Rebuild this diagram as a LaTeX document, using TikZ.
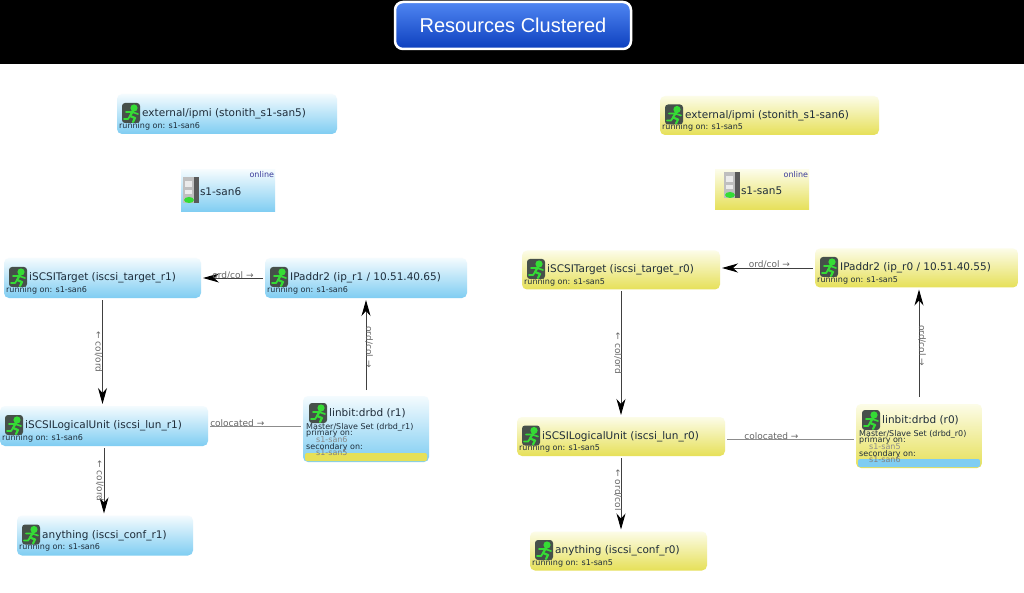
\documentclass[tikz,border=0pt]{standalone}
\usepackage{fontspec}
\setmainfont{DejaVu Sans}
\newfontfamily\bannerfont{Liberation Sans}
\usetikzlibrary{arrows.meta}
\usetikzlibrary{positioning}
\definecolor{bluetop}{HTML}{F4FBFE}
\definecolor{bluemid}{HTML}{C4E8F9}
\definecolor{bluebot}{HTML}{7FCDF2}
\definecolor{yellowtop}{HTML}{FCFCE8}
\definecolor{yellowmid}{HTML}{F4F2A6}
\definecolor{yellowbot}{HTML}{E6E058}
\definecolor{inktext}{HTML}{1F2D3A}
\definecolor{bannertop}{HTML}{4F86F2}
\definecolor{bannerbot}{HTML}{0D3FBE}
\definecolor{runnerbg}{HTML}{46504A}
\definecolor{runnergreen}{HTML}{35DC35}
\definecolor{onlineblue}{HTML}{3A3A9A}
\tikzset{
  bluebox/.style = {rectangle, rounded corners=5pt, top color=bluetop, middle color=bluemid, bottom color=bluebot, minimum height=40pt, outer sep=2pt},
  yellowbox/.style = {rectangle, rounded corners=5pt, top color=yellowtop, middle color=yellowmid, bottom color=yellowbot, minimum height=39pt, outer sep=2pt},
  restitle/.style = {inner sep=0pt, text=inktext, font=\fontsize{10.5}{11}\selectfont},
  resrun/.style = {inner sep=0pt, text=inktext, font=\fontsize{8}{9}\selectfont},
  edgelabel/.style = {inner sep=0pt, text=black!60, font=\fontsize{9}{10}\selectfont},
  flow/.style = {draw=black!75, line width=0.9pt, -{Stealth[length=16pt,width=9pt,inset=5pt,black]}},
  coloc/.style = {draw=black!45, line width=0.8pt},
  runner/.pic = {
    \fill[runnerbg, rounded corners=3pt] (-9,-10) rectangle (9,10);
    \fill[runnergreen] (3,-5) circle (3.6);
    \draw[runnergreen, line width=2.2pt, line cap=round, line join=round] (2,-2) -- (-1,3) -- (4,5) -- (2,9);
    \draw[runnergreen, line width=1.8pt, line cap=round, line join=round] (-1,3) -- (-3,6) -- (-7,6);
    \draw[runnergreen, line width=1.6pt, line cap=round, line join=round] (-5,-1) -- (1,-1) -- (7,1);
  },
  serverpic/.pic = {
    \fill[black!65] (-8,-13) rectangle (8,13);
    \fill[black!25] (-8,-13) rectangle (3,13);
    \fill[black!8] (-6,-9) rectangle (1,-3);
    \fill[black!8] (-6,0) rectangle (1,4);
    \fill[runnergreen] (-2,10) ellipse (5 and 3);
  },
}
% one resource: style, name, position, width, title, host
\newcommand{\resource}[6]{
  \node [#1, minimum width=#4] (#2) at (#3) {};
  \node [restitle, right=27pt of #2.west, yshift=0pt] (#2-title) {#5};
  \node [resrun, right=4pt of #2.west, yshift=-12pt] (#2-run) {running on: #6};
  \pic at ([xshift=16pt, yshift=1pt]#2.west) {runner};
}
% one master/slave set: style, height, name, position, title, set, primary, secondary, stripe colour
\newcommand{\drbdset}[9]{
  \node [#1, minimum width=126pt, minimum height=#2pt] (#3) at (#4) {};
  \fill [#9, rounded corners=2pt] ([shift={(4pt,3pt)}]#3.south west) rectangle ([shift={(-4pt,11pt)}]#3.south east);
  \pic at ([xshift=17pt, yshift=16pt]#3.west) {runner};
  \node [restitle, right=28pt of #3.west, yshift=16pt] (#3-title) {#5};
  \node [resrun, right=5pt of #3.west, yshift=2pt] (#3-set) {Master/Slave Set (#6)};
  \node [resrun, right=5pt of #3.west, yshift=-4pt] (#3-pri) {primary on:};
  \node [resrun, text=black!45, right=15pt of #3.west, yshift=-11pt] (#3-prihost) {#7};
  \node [resrun, right=5pt of #3.west, yshift=-18pt] (#3-sec) {secondary on:};
  \node [resrun, text=black!50, right=15pt of #3.west, yshift=-24pt] (#3-sechost) {#8};
}
\begin{document}
\begin{tikzpicture}[x=1pt, y=-1pt]
   \useasboundingbox (0,0) rectangle (1024,593);
   \fill[white] (0,0) rectangle (1024,593);
   \fill[black] (0,0) rectangle (1024,64);
   % Banner
   \node [rectangle, draw=white, line width=2.5pt, rounded corners=8pt, top color=bannertop, bottom color=bannerbot, minimum width=236pt, minimum height=47pt, text=white, font=\bannerfont\fontsize{20}{22}\selectfont] (banner) at (513,25.5) {Resources Clustered};
   % Left side
   \resource{bluebox}{ipmi1}{227,114}{220pt}{external/ipmi (stonith\_s1-san5)}{s1-san6}
   \node [rectangle, top color=bluetop, middle color=bluemid, bottom color=bluebot, minimum width=94pt, minimum height=42pt] (host1) at (228,191) {};
   \pic at (191,190) {serverpic};
   \node [restitle, right=19pt of host1.west, yshift=-1pt] (host1-title) {s1-san6};
   \node [resrun, text=onlineblue, anchor=north east] (host1-state) at ([shift={(-1pt,-1pt)}]host1.north east) {online};
   \resource{bluebox}{target1}{102.5,278}{197pt}{iSCSITarget (iscsi\_target\_r1)}{s1-san6}
   \resource{bluebox}{ip1}{366,278}{202pt}{IPaddr2 (ip\_r1 / 10.51.40.65)}{s1-san6}
   \resource{bluebox}{lun1}{104,426}{208pt}{iSCSILogicalUnit (iscsi\_lun\_r1)}{s1-san6}
   \resource{bluebox}{conf1}{105,535.5}{176pt}{anything (iscsi\_conf\_r1)}{s1-san6}
   % Right side
   \resource{yellowbox}{ipmi0}{769.5,115.5}{219pt}{external/ipmi (stonith\_s1-san6)}{s1-san5}
   \node [rectangle, top color=yellowtop, middle color=yellowmid, bottom color=yellowbot, minimum width=94pt, minimum height=40pt] (host0) at (762,190) {};
   \pic at (732,185) {serverpic};
   \node [restitle, right=26pt of host0.west, yshift=-1pt] (host0-title) {s1-san5};
   \node [resrun, text=onlineblue, anchor=north east] (host0-state) at ([shift={(-1pt,-1pt)}]host0.north east) {online};
   \resource{yellowbox}{target0}{621,270}{198pt}{iSCSITarget (iscsi\_target\_r0)}{s1-san5}
   \resource{yellowbox}{ip0}{916.5,268}{203pt}{IPaddr2 (ip\_r0 / 10.51.40.55)}{s1-san5}
   \resource{yellowbox}{lun0}{621,436.5}{208pt}{iSCSILogicalUnit (iscsi\_lun\_r0)}{s1-san5}
   \resource{yellowbox}{conf0}{618.5,551}{177pt}{anything (iscsi\_conf\_r0)}{s1-san5}
   % Master/slave sets
   \drbdset{bluebox}{66}{drbd1}{366,429}{linbit:drbd (r1)}{drbd\_r1}{s1-san6}{s1-san5}{yellowbot}
   \drbdset{yellowbox}{64}{drbd0}{919,436}{linbit:drbd (r0)}{drbd\_r0}{s1-san5}{s1-san6}{bluebot}
   % Connectors
   \draw[flow] (ip1.west) to node [edgelabel, above, yshift=-2pt] {ord/col →} (target1.east);
   \draw[flow] (target1.south) to node [edgelabel, rotate=-90, yshift=-4pt] {← col/ord} (target1.south |- lun1.north);
   \draw[flow] (lun1.south) to node [edgelabel, rotate=-90, yshift=-4pt] {← col/ord} (lun1.south |- conf1.north);
   \draw[flow, shorten <=4pt] (drbd1.north) to node [edgelabel, rotate=-90, yshift=3pt] {ord/col →} (ip1.south);
   \draw[coloc] (lun1.east) to node [edgelabel, above, pos=0.3, yshift=-1pt] {colocated →} (lun1.east -| drbd1.west);
   \draw[flow] (ip0.west) to node [edgelabel, above, pos=0.48, yshift=-1pt] {ord/col →} (ip0.west -| target0.east);
   \draw[flow] (target0.south) to node [edgelabel, rotate=-90, yshift=-3pt] {← col/ord} (target0.south |- lun0.north);
   \draw[flow] (lun0.south) to node [edgelabel, rotate=-90, pos=0.45, yshift=-3pt] {← ord/col} (lun0.south |- conf0.north);
   \draw[flow, shorten <=5pt] (drbd0.north) to node [edgelabel, rotate=-90, yshift=3pt] {ord/col →} (drbd0.north |- ip0.south);
   \draw[coloc] ([yshift=-3pt]lun0.east) to node [edgelabel, above, pos=0.35, yshift=-1pt] {colocated →} ([yshift=-3pt]lun0.east -| drbd0.west);
\end{tikzpicture}
\end{document}
